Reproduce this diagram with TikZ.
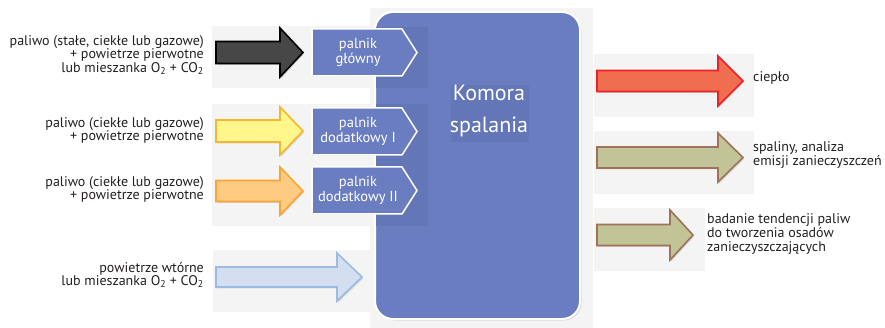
\documentclass[tikz,border=0pt]{standalone}
\usepackage{fontspec}
\setmainfont{PT Sans}
\usetikzlibrary{shadows}
\definecolor{boxblue}{HTML}{6A7DC0}
\definecolor{boxdark}{HTML}{6276B8}
\definecolor{bggray}{HTML}{F4F4F4}
\definecolor{txt}{HTML}{231F20}
\definecolor{darkfill}{HTML}{474747}
\definecolor{yelfill}{HTML}{FFF68C}
\definecolor{yelline}{HTML}{F8B62E}
\definecolor{orafill}{HTML}{FFCB82}
\definecolor{oraline}{HTML}{F9A531}
\definecolor{blufill}{HTML}{D3DFF1}
\definecolor{bluline}{HTML}{9DBAE3}
\definecolor{redfill}{HTML}{F06E50}
\definecolor{redline}{HTML}{EE2026}
\definecolor{olvfill}{HTML}{C0C497}
\definecolor{olvline}{HTML}{A0725A}
\newcommand\fatarrow[7][]{%
  \draw[#1] ({#2},{#5-#6}) -- ({#3},{#5-#6}) -- ({#3},{#5-#7}) -- ({#4},{#5})
    -- ({#3},{#5+#7}) -- ({#3},{#5+#6}) -- ({#2},{#5+#6}) -- cycle;}
\begin{document}
\begin{tikzpicture}[x=1pt,y=-1pt,
  arr/.style={line width=1.6pt, line join=miter, drop shadow={shadow xshift=1.2pt, shadow yshift=-1.5pt, opacity=0.25}},
  lbl/.style={text=txt, font=\fontsize{14}{13.4}\selectfont, inner sep=0pt},
  burner/.style={fill=boxblue, draw=white, line width=1.5pt, drop shadow={shadow xshift=1pt, shadow yshift=-1pt, opacity=0.2}},
  btext/.style={text=white, font=\fontsize{14.5}{15}\selectfont, align=center, inner sep=0pt}]
\useasboundingbox (0,0) rectangle (885,328);
% backgrounds
\fill[bggray] (212,26) rectangle (428,88);
\fill[bggray] (212,104) rectangle (428,166);
\fill[bggray] (212,166) rectangle (428,226);
\fill[bggray] (213,250) rectangle (373,312);
\fill[bggray] (370,8) rectangle (593,328);
\fill[bggray] (594,54) rectangle (754,117);
\fill[bggray] (594,131) rectangle (754,194);
\fill[bggray] (594,208) rectangle (705,271);
% chamber
\node[fill=boxblue, draw=white, line width=2pt, rounded corners=18pt, minimum width=205pt, minimum height=307pt,
  drop shadow={shadow xshift=1.5pt, shadow yshift=-1.5pt, opacity=0.25}] (komora) at (477.5,165.5) {};
\fill[boxdark] (376,27) rectangle (428,88);
\fill[boxdark] (376,104) rectangle (428,226);
\fill[boxdark] (451,85) rectangle (529,142);
\node[text=white, font=\fontsize{22}{32}\selectfont, align=center, inner sep=0pt] (ktext) at (489,111) {Komora\\spalania};
% burners
\draw[burner] (312,29) -- (402,29) -- (417,52.5) -- (402,76) -- (312,76) -- cycle;
\node[btext] (b1) at (358,52.5) {palnik\\główny};
\draw[burner] (312,108) -- (402,108) -- (417,131.5) -- (402,155) -- (312,155) -- cycle;
\node[btext] (b2) at (358,131.5) {palnik\\dodatkowy I};
\draw[burner] (312,167) -- (402,167) -- (417,190.5) -- (402,214) -- (312,214) -- cycle;
\node[btext] (b3) at (358,190.5) {palnik\\dodatkowy II};
% input arrows
\fatarrow[arr, fill=darkfill, draw=black]{216}{280}{303}{52.5}{11}{24.5}
\fatarrow[arr, fill=yelfill, draw=yelline]{216}{280}{303}{131}{11}{24}
\fatarrow[arr, fill=orafill, draw=oraline]{216}{280}{303}{191}{10.5}{24}
\fatarrow[arr, fill=blufill, draw=bluline]{216}{337}{362}{277}{10}{24}
% output arrows
\fatarrow[arr, fill=redfill, draw=redline]{597}{718}{743}{81}{10.5}{25}
\fatarrow[arr, fill=olvfill, draw=olvline]{597}{718}{743}{157.5}{10.5}{24.5}
\fatarrow[arr, fill=olvfill, draw=olvline]{597}{670}{693}{235}{10.5}{25}
% labels
\node[lbl, anchor=east, align=right] (l1) at (204,55) {paliwo (stałe, ciekłe lub gazowe)\\+ powietrze pierwotne\\lub mieszanka O\textsubscript{2} + CO\textsubscript{2}};
\node[lbl, anchor=east, align=right] (l2) at (204,130.5) {paliwo (ciekłe lub gazowe)\\+ powietrze pierwotne};
\node[lbl, anchor=east, align=right] (l3) at (204,189.5) {paliwo (ciekłe lub gazowe)\\+ powietrze pierwotne};
\node[lbl, anchor=east, align=right] (l4) at (204,275) {powietrze wtórne\\lub mieszanka O\textsubscript{2} + CO\textsubscript{2}};
\node[lbl, anchor=west, align=left] (r1) at (753,78) {ciepło};
\node[lbl, anchor=west, align=left] (r2) at (753,155) {spaliny, analiza\\emisji zanieczyszczeń};
\node[lbl, anchor=west, align=left, font=\fontsize{14}{14}\selectfont] (r3) at (707,234) {badanie tendencji paliw\\do tworzenia osadów\\zanieczyszczających};
\end{tikzpicture}
\end{document}
